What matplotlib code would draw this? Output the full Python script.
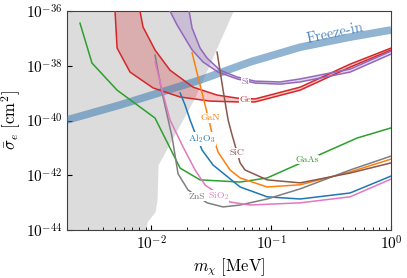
import numpy as np
import matplotlib
matplotlib.use('Agg')
import matplotlib.pyplot as plt

plt.rcParams['font.family'] = 'serif'
plt.rcParams['font.serif'] = ['cmr10', 'DejaVu Serif']
plt.rcParams['mathtext.fontset'] = 'cm'
plt.rcParams['axes.formatter.use_mathtext'] = True

# data, stored as log10 values (mass in MeV, cross section in cm^2)
excl_m = [-1.317, -1.633, -1.942, -1.95, -1.967, -2.033, -2.042]
excl_s = [-36.0, -39.14, -41.62, -42.90, -43.34, -43.70, -44.0]

freeze_m = [-2.70, -2.258, -1.592, -1.175, -0.758, -0.342, 0.0]
freeze_s = [-39.98, -39.43, -38.52, -37.86, -37.32, -36.95, -36.69]

gaas_m = [-2.592, -2.492, -2.283, -1.967, -1.758, -1.592, -1.258, -1.033, -0.283, 0.0]
gaas_s = [-36.44, -37.90, -38.89, -39.91, -41.74, -42.17, -42.25, -42.10, -40.64, -40.27]

ge_hi_m = [-2.092, -2.067, -1.967, -1.842, -1.65, -1.45, -1.283, -1.133, -0.758, -0.342, 0.0]
ge_hi_s = [-36.0, -36.58, -37.42, -38.16, -38.78, -39.07, -39.18, -39.21, -38.78, -37.94, -37.35]
ge_lo_m = [-2.30, -2.283, -2.175, -1.983, -1.758, -1.508, -1.283, -1.133, -0.758, -0.342, 0.0]
ge_lo_s = [-36.0, -37.35, -38.23, -38.81, -39.14, -39.29, -39.32, -39.32, -38.89, -38.05, -37.42]

si_hi_m = [-1.683, -1.658, -1.592, -1.533, -1.425, -1.283, -1.133, -0.925, -0.758, -0.342, 0.0]
si_hi_s = [-36.0, -36.62, -37.35, -37.72, -38.16, -38.41, -38.56, -38.59, -38.48, -38.12, -37.46]
si_lo_m = [-1.842, -1.783, -1.658, -1.567, -1.442, -1.283, -1.133, -0.925, -0.758, -0.342, 0.0]
si_lo_s = [-36.0, -36.51, -37.42, -37.86, -38.23, -38.48, -38.63, -38.67, -38.59, -38.23, -37.57]

gan_m = [-1.658, -1.533, -1.492, -1.442, -1.342, -1.258, -1.033, -0.758, -0.342, 0.0]
gan_s = [-37.53, -39.73, -40.46, -41.15, -41.81, -42.10, -42.43, -42.35, -41.88, -41.41]

al2o3_m = [-1.758, -1.717, -1.675, -1.633, -1.575, -1.483, -1.258, -1.033, -0.758, -0.342, 0.0]
al2o3_s = [-38.99, -39.43, -39.98, -40.46, -41.08, -41.63, -42.43, -42.79, -42.87, -42.65, -42.03]

zns_m = [-1.967, -1.908, -1.825, -1.775, -1.692, -1.533, -1.40, -1.258, -1.033, -0.758, -0.342, 0.0]
zns_s = [-37.61, -38.99, -40.60, -41.95, -42.54, -43.01, -43.16, -43.09, -42.87, -42.50, -41.81, -41.30]

sio2_m = [-1.967, -1.908, -1.842, -1.733, -1.633, -1.55, -1.342, -1.175, -0.758, -0.342, 0.0]
sio2_s = [-37.86, -38.89, -39.98, -40.97, -41.81, -42.36, -42.98, -43.09, -43.01, -42.79, -42.14]

sic_m = [-1.45, -1.40, -1.358, -1.325, -1.258, -1.217, -1.033, -0.758, -0.342, 0.0]
sic_s = [-37.50, -38.89, -39.98, -40.53, -41.55, -41.81, -42.17, -42.28, -41.92, -41.55]

# label name, color, log m, log sigma
labels = [
    ('Si', 'C4', -1.217, -38.59),
    ('Ge', 'C3', -1.217, -39.25),
    ('GaN', 'C1', -1.508, -39.91),
    (r'Al$_2$O$_3$', 'C0', -1.575, -40.68),
    ('SiC', 'C5', -1.283, -41.19),
    ('GaAs', 'C2', -0.70, -41.44),
    ('ZnS', 'C7', -1.617, -42.79),
    (r'SiO$_2$', 'C6', -1.442, -42.76),
]

def p(a):
    return 10.0 ** np.array(a)

fig = plt.figure(figsize=(4.07, 2.78), dpi=100)
ax = fig.add_axes([0.165, 0.173, 0.796, 0.787])

xmin, xmax = 2e-3, 1.0
ax.fill_betweenx(p(excl_s), xmin, p(excl_m), color='#dcdcdc', lw=0, zorder=0)

ax.plot(p(freeze_m), p(freeze_s), color='steelblue', alpha=0.6, lw=5.5, zorder=3,
        solid_capstyle='butt')
ax.text(10 ** -0.47, 10 ** -36.82, 'Freeze-in', color='#4f86bd', fontsize=10.5,
        rotation=12, ha='center', va='center', zorder=6)

ax.plot(p(gaas_m), p(gaas_s), color='C2', lw=1.1, zorder=4)

ax.fill(np.concatenate([p(ge_lo_m), p(ge_hi_m)[::-1]]),
        np.concatenate([p(ge_lo_s), p(ge_hi_s)[::-1]]), color='C3', alpha=0.25, lw=0, zorder=2)
ax.plot(p(ge_hi_m), p(ge_hi_s), color='C3', lw=1.1, zorder=4)
ax.plot(p(ge_lo_m), p(ge_lo_s), color='C3', lw=1.1, zorder=4)

ax.fill(np.concatenate([p(si_lo_m), p(si_hi_m)[::-1]]),
        np.concatenate([p(si_lo_s), p(si_hi_s)[::-1]]), color='C4', alpha=0.25, lw=0, zorder=2)
ax.plot(p(si_hi_m), p(si_hi_s), color='C4', lw=1.1, zorder=4)
ax.plot(p(si_lo_m), p(si_lo_s), color='C4', lw=1.1, zorder=4)

ax.plot(p(gan_m), p(gan_s), color='C1', lw=1.1, zorder=4)
ax.plot(p(al2o3_m), p(al2o3_s), color='C0', lw=1.1, zorder=4)
ax.plot(p(zns_m), p(zns_s), color='C7', lw=1.1, zorder=4)
ax.plot(p(sio2_m), p(sio2_s), color='C6', lw=1.1, zorder=4)
ax.plot(p(sic_m), p(sic_s), color='C5', lw=1.1, zorder=4)

for name, c, lm, ls in labels:
    ax.text(10 ** lm, 10 ** ls, name, color=c, fontsize=7, ha='center', va='center', zorder=5,
            bbox=dict(fc='white', ec='none', pad=0.3))

ax.set_xscale('log')
ax.set_yscale('log')
ax.set_xlim(xmin, xmax)
ax.set_ylim(1e-44, 1e-36)
ax.set_yticks([1e-44, 1e-42, 1e-40, 1e-38, 1e-36])
ax.yaxis.set_minor_locator(matplotlib.ticker.NullLocator())
ax.tick_params(which='both', direction='in', labelsize=11)
ax.tick_params(which='major', length=3.5)
ax.tick_params(which='minor', length=2)
for s in ax.spines.values():
    s.set_color('0.25')

ax.set_xlabel(r'$m_\chi\ [\mathrm{MeV}]$', fontsize=12, labelpad=2)
ax.set_ylabel(r'$\bar\sigma_e\ [\mathrm{cm}^2]$', fontsize=12, labelpad=2)

fig.savefig('out.png', dpi=100)
